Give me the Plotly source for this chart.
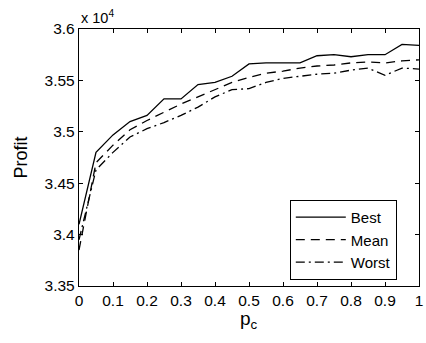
import plotly.graph_objects as go

# Crossover probability p_c
pc = [0.00, 0.05, 0.10, 0.15, 0.20, 0.25, 0.30, 0.35, 0.40, 0.45, 0.50,
      0.55, 0.60, 0.65, 0.70, 0.75, 0.80, 0.85, 0.90, 0.95, 1.00]

# Profit in units of 10^4
best = [3.410, 3.480, 3.497, 3.510, 3.516, 3.532, 3.532, 3.546, 3.548, 3.554, 3.566,
        3.567, 3.567, 3.567, 3.574, 3.575, 3.573, 3.575, 3.575, 3.585, 3.584]
mean = [3.385, 3.470, 3.487, 3.502, 3.511, 3.519, 3.527, 3.534, 3.541, 3.548, 3.553,
        3.557, 3.559, 3.562, 3.564, 3.565, 3.567, 3.568, 3.567, 3.569, 3.570]
worst = [3.395, 3.463, 3.480, 3.495, 3.503, 3.509, 3.516, 3.524, 3.534, 3.541, 3.542,
         3.548, 3.552, 3.554, 3.556, 3.557, 3.560, 3.562, 3.555, 3.562, 3.561]

x_ticks = [0, 0.1, 0.2, 0.3, 0.4, 0.5, 0.6, 0.7, 0.8, 0.9, 1.0]
x_tick_text = ["0", "0.1", "0.2", "0.3", "0.4", "0.5", "0.6", "0.7", "0.8", "0.9", "1"]
y_ticks = [3.35, 3.40, 3.45, 3.50, 3.55, 3.60]
y_tick_text = ["3.35", "3.4", "3.45", "3.5", "3.55", "3.6"]

FONT = "Liberation Sans, Arial, sans-serif"

fig = go.Figure()
fig.add_trace(go.Scatter(x=pc, y=best, mode="lines", name="Best",
                         line=dict(color="black", width=1.3)))
fig.add_trace(go.Scatter(x=pc, y=mean, mode="lines", name="Mean",
                         line=dict(color="black", width=1.3, dash="9px,6px")))
fig.add_trace(go.Scatter(x=pc, y=worst, mode="lines", name="Worst",
                         line=dict(color="black", width=1.3, dash="9px,4px,2px,4px")))

axis_common = dict(showline=True, linecolor="black", linewidth=1.4, mirror="ticks",
                   ticks="inside", ticklen=4, tickcolor="black", tickwidth=1,
                   showgrid=False, zeroline=False, ticklabeloverflow="allow",
                   tickfont=dict(family=FONT, size=15.5, color="black"))

fig.update_layout(
    width=426, height=343,
    margin=dict(l=79, r=3, t=29, b=57),
    paper_bgcolor="white", plot_bgcolor="white",
    font=dict(family=FONT, color="black"),
    xaxis=dict(range=[0, 1], tickvals=x_ticks, ticktext=x_tick_text, **axis_common),
    yaxis=dict(range=[3.35, 3.60], tickvals=y_ticks, ticktext=y_tick_text,
               title=dict(text="Profit", font=dict(size=18), standoff=12),
               **axis_common),
    legend=dict(x=0.62, y=0.335, xanchor="left", yanchor="top",
                bgcolor="white", bordercolor="black", borderwidth=1,
                font=dict(family=FONT, size=15, color="black"),
                itemwidth=50, tracegroupgap=0),
    showlegend=True,
    annotations=[
        dict(text="x 10<sup>4</sup>", xref="paper", yref="paper",
             x=0.0, y=1.0, xanchor="left", yanchor="bottom", yshift=1,
             showarrow=False, font=dict(family=FONT, size=14.5, color="black")),
        # x-axis title placed just under the tick labels
        dict(text="p<sub>c</sub>", xref="paper", yref="paper",
             x=0.5, y=0.0, xanchor="center", yanchor="top", yshift=-20,
             showarrow=False, font=dict(family=FONT, size=19, color="black")),
    ],
)

fig.write_html("out.html")
